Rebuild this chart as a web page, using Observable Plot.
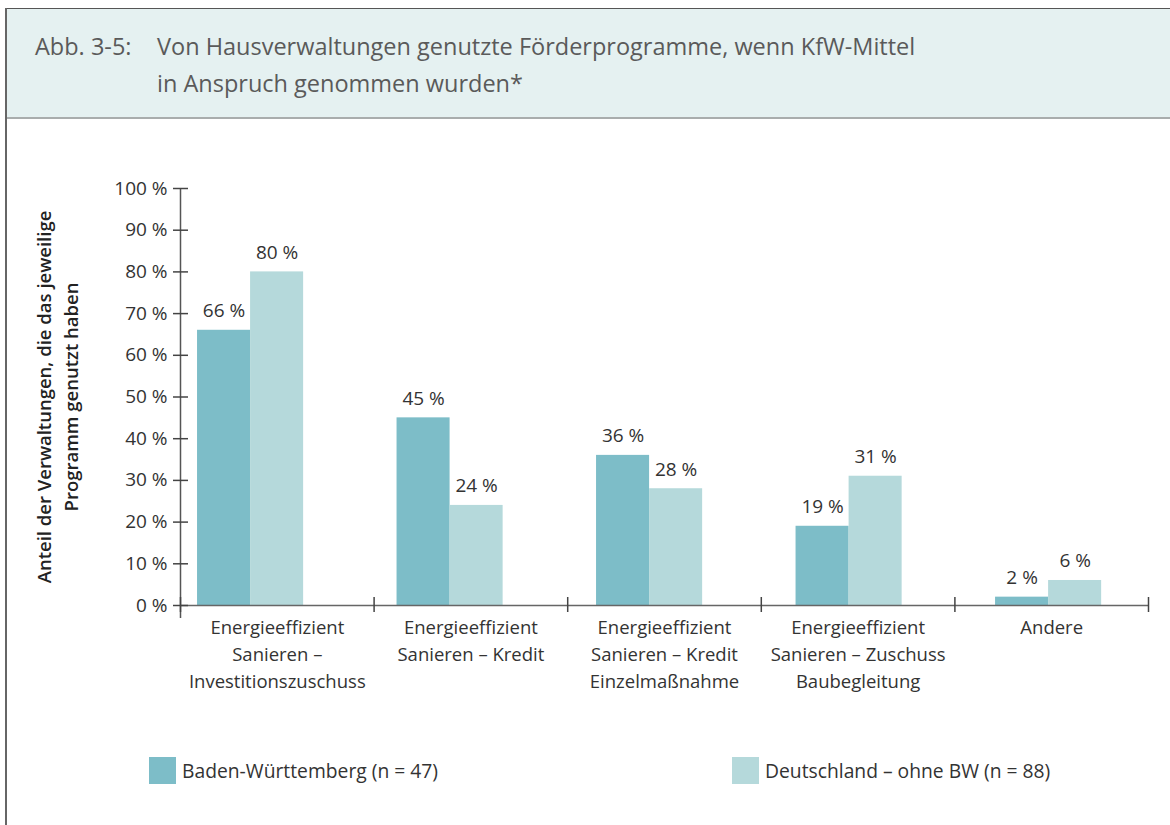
<!DOCTYPE html>
<html><head><meta charset="utf-8">
<script src="https://cdn.jsdelivr.net/npm/d3@7"></script>
<script src="https://cdn.jsdelivr.net/npm/@observablehq/plot@0.6"></script>
<style>
body{margin:0;background:#fff;font-family:"Open Sans","Noto Sans",sans-serif;}
#page{position:relative;width:1170px;height:825px;overflow:hidden;background:#fff;}
#header{position:absolute;left:6px;top:8px;right:0;height:108px;background:#e5f1f1;border-top:1.5px solid #555;border-bottom:2px solid #a9adad;}
#vline{position:absolute;left:5px;top:8px;width:1.5px;bottom:0;background:#666;}
#title{position:absolute;left:35px;top:28px;font-size:23.5px;font-weight:400;line-height:37px;color:#5a5a5a;display:flex;white-space:nowrap;}
#title .num{width:122px;flex:none;}
#chart{position:absolute;left:0;top:130px;}
.leg{position:absolute;top:757px;height:27px;display:flex;align-items:center;font-size:19.3px;font-weight:400;color:#333;white-space:nowrap;}
.leg .sw{width:27px;height:27px;margin-right:6px;flex:none;}
</style></head>
<body><div id="page">
<div id="header"></div>
<div id="vline"></div>
<div id="title"><span class="num">Abb. 3-5:</span><span>Von Hausverwaltungen genutzte Förderprogramme, wenn KfW-Mittel<br>in Anspruch genommen wurden*</span></div>
<div id="chart"></div>
<div id="legend"></div>
</div>
<script>
const categories = [
  "Energieeffizient\nSanieren –\nInvestitionszuschuss",
  "Energieeffizient\nSanieren – Kredit",
  "Energieeffizient\nSanieren – Kredit\nEinzelmaßnahme",
  "Energieeffizient\nSanieren – Zuschuss\nBaubegleitung",
  "Andere"
];
const seriesNames = ["Baden-Württemberg (n = 47)", "Deutschland – ohne BW (n = 88)"];
const valuesBW = [66, 45, 36, 19, 2];
const valuesDE = [80, 24, 28, 31, 6];
const yTicks = [0, 10, 20, 30, 40, 50, 60, 70, 80, 90, 100];
const seriesColors = ["#7dbdc8", "#b5d9db"];
const yTitle = "Anteil der Verwaltungen, die das jeweilige\nProgramm genutzt haben";

// layout (in x data units, one unit per category band)
const GROUP_OFFSET = 0.088, GROUP_STEP = 1.0305, BAR_W = 0.274;

const rows = [];
categories.forEach((c, i) => {
  [valuesBW, valuesDE].forEach((vals, s) => {
    rows.push({category: c, index: i, s, series: seriesNames[s], value: vals[i]});
  });
});
const barX1 = d => GROUP_OFFSET + GROUP_STEP * d.index + BAR_W * d.s;
const boundaries = d3.range(categories.length + 1);
const pct = d => d + "\u00a0%";

const chart = Plot.plot({
  width: 1170, height: 580,
  marginLeft: 180, marginRight: 22, marginTop: 58, marginBottom: 92,
  x: {domain: [0, categories.length], axis: null},
  y: {domain: [0, 100], range: [475, 58], axis: null},
  color: {domain: seriesNames, range: seriesColors},
  style: {fontFamily: "'Open Sans', 'Noto Sans', sans-serif", fontSize: "18px", fontWeight: 400, color: "#333", background: "transparent", overflow: "visible"},
  marks: [
    Plot.rectY(rows, {x1: barX1, x2: d => barX1(d) + BAR_W, y1: 0, y2: "value", fill: "series"}),
    Plot.ruleY([0], {stroke: "#666", strokeWidth: 1.5}),
    Plot.ruleX([0], {stroke: "#555", strokeWidth: 1.5}),
    Plot.ruleY(yTicks, {y: d => d, x1: 0, x2: 0, insetLeft: -7, insetRight: -8, stroke: "#444", strokeWidth: 1.5}),
    Plot.ruleX(boundaries, {x: d => d, y1: 0, y2: 0, insetTop: -8, insetBottom: -7, stroke: "#444", strokeWidth: 1.5}),
    Plot.axisY({ticks: yTicks, tickSize: 0, tickPadding: 13, tickFormat: pct, fontSize: 19, fontWeight: 400, label: null, fill: "#333"}),
    Plot.text(categories, {x: (d, i) => i + 0.5, y: 0, dy: 9, lineAnchor: "top", lineHeight: 1.46, fontSize: 18.5, fontWeight: 400, fill: "#333"}),
    Plot.text(rows, {x: d => barX1(d) + BAR_W / 2, y: "value", text: d => pct(d.value), dy: -13, lineAnchor: "bottom", fontSize: 19, fontWeight: 400, fill: "#333"}),
    Plot.text([yTitle], {x: 0, y: 50, rotate: -90, dx: -124.5, lineHeight: 1.45, fontSize: 18.5, fontWeight: 600, fill: "#222"})
  ]
});
document.getElementById("chart").appendChild(chart);

const legend = document.getElementById("legend");
const legendLeft = [149, 732];
seriesNames.forEach((name, i) => {
  const item = document.createElement("div");
  item.className = "leg";
  item.style.left = legendLeft[i] + "px";
  const sw = document.createElement("span");
  sw.className = "sw";
  sw.style.background = seriesColors[i];
  item.appendChild(sw);
  item.appendChild(document.createTextNode(name));
  legend.appendChild(item);
});
</script>
</body></html>
